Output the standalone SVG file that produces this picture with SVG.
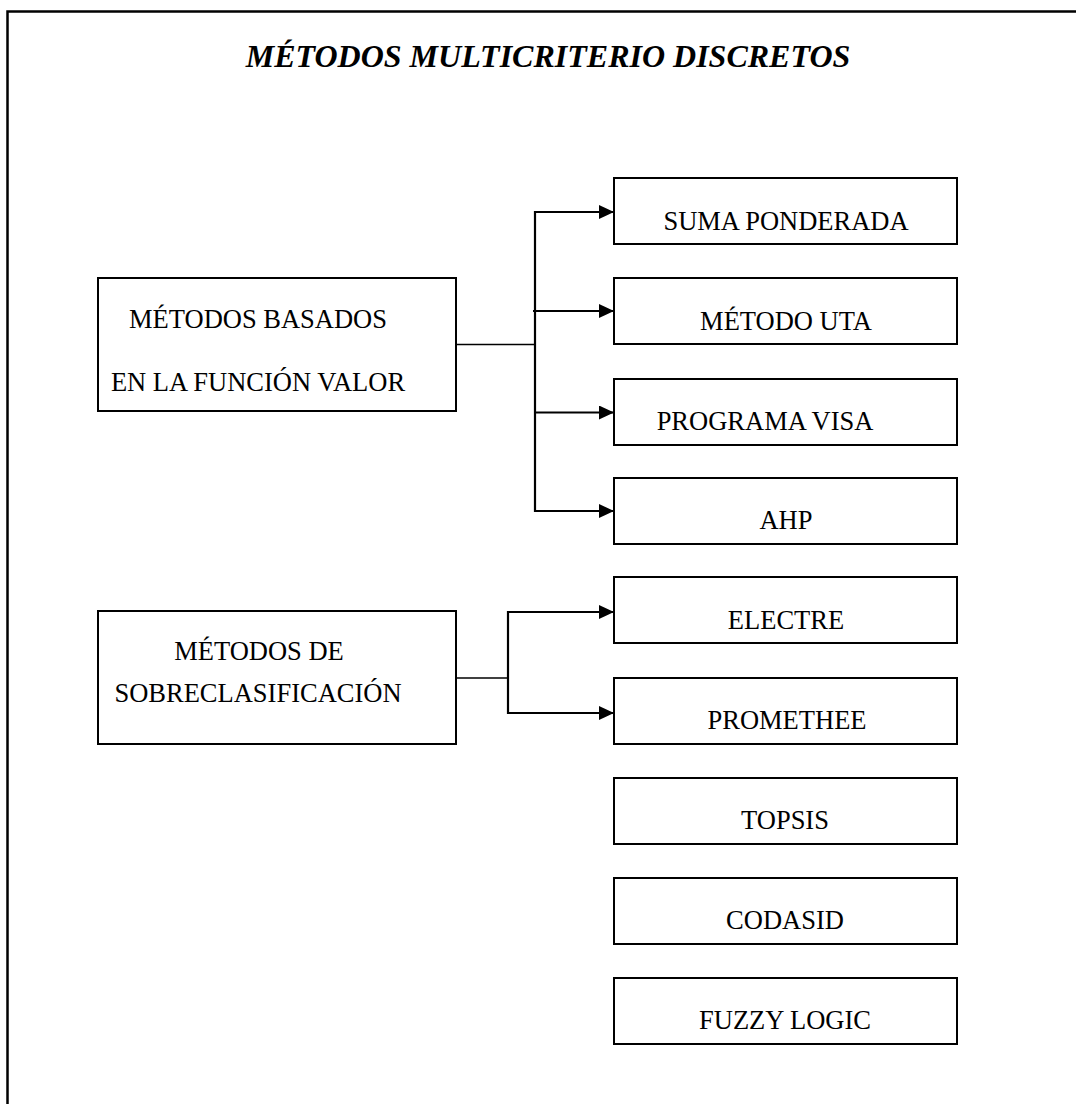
<svg xmlns="http://www.w3.org/2000/svg" width="1076" height="1104" viewBox="0 0 1076 1104">
  <style>
    .box { fill: #ffffff; stroke: #000000; stroke-width: 2; }
    .lbl { font-family: "Liberation Serif", "Times New Roman", serif; font-size: 26.5px; fill: #000000; text-anchor: middle; }
    .title { font-family: "Liberation Serif", "Times New Roman", serif; font-size: 32px; font-weight: bold; font-style: italic; fill: #000000; text-anchor: middle; }
    .wire { fill: none; stroke: #000000; stroke-width: 2.2; }
    .stem { fill: none; stroke: #000000; stroke-width: 1.6; }
  </style>
  <defs>
    <marker id="arrow" viewBox="0 0 15 14" refX="15" refY="7" markerWidth="15" markerHeight="14" markerUnits="userSpaceOnUse" orient="auto">
      <path d="M0,0 L15,7 L0,14 Z" fill="#000000"/>
    </marker>
  </defs>

  <rect width="1076" height="1104" fill="#ffffff"/>
  <!-- page frame, runs off the right and bottom edges -->
  <rect x="7.5" y="11.5" width="1100" height="1120" fill="none" stroke="#000000" stroke-width="2.5"/>

  <text id="title" class="title" x="548" y="67">MÉTODOS MULTICRITERIO DISCRETOS</text>

  <!-- connectors -->
  <g id="connectors">
    <line class="stem" x1="456" y1="344.5" x2="535" y2="344.5"/>
    <line class="wire" x1="535" y1="211" x2="535" y2="512"/>
    <line class="wire" x1="535" y1="212" x2="614" y2="212" marker-end="url(#arrow)"/>
    <line class="wire" x1="533" y1="311" x2="614" y2="311" marker-end="url(#arrow)"/>
    <line class="wire" x1="535" y1="412.5" x2="614" y2="412.5" marker-end="url(#arrow)"/>
    <line class="wire" x1="534" y1="511" x2="614" y2="511" marker-end="url(#arrow)"/>

    <line class="stem" x1="456" y1="678" x2="508" y2="678"/>
    <line class="wire" x1="508" y1="611" x2="508" y2="714"/>
    <line class="wire" x1="507" y1="612" x2="614" y2="612" marker-end="url(#arrow)"/>
    <line class="wire" x1="507" y1="713" x2="614" y2="713" marker-end="url(#arrow)"/>
  </g>

  <!-- parent groups -->
  <g id="funcion-valor">
    <rect class="box" x="98" y="278" width="358" height="133"/>
    <text class="lbl" x="258" y="328">MÉTODOS BASADOS</text>
    <text class="lbl" x="258" y="391">EN LA FUNCIÓN VALOR</text>
  </g>
  <g id="sobreclasificacion">
    <rect class="box" x="98" y="611" width="358" height="133"/>
    <text class="lbl" x="259" y="660">MÉTODOS DE</text>
    <text class="lbl" x="258" y="702">SOBRECLASIFICACIÓN</text>
  </g>

  <!-- individual methods -->
  <g id="suma-ponderada">
    <rect class="box" x="614" y="178" width="343" height="66"/>
    <text class="lbl" x="786" y="230">SUMA PONDERADA</text>
  </g>
  <g id="metodo-uta">
    <rect class="box" x="614" y="278" width="343" height="66"/>
    <text class="lbl" x="786" y="330">MÉTODO UTA</text>
  </g>
  <g id="programa-visa">
    <rect class="box" x="614" y="379" width="343" height="66"/>
    <text class="lbl" x="765" y="430">PROGRAMA VISA</text>
  </g>
  <g id="ahp">
    <rect class="box" x="614" y="478" width="343" height="66"/>
    <text class="lbl" x="786" y="529">AHP</text>
  </g>
  <g id="electre">
    <rect class="box" x="614" y="577" width="343" height="66"/>
    <text class="lbl" x="786" y="629">ELECTRE</text>
  </g>
  <g id="promethee">
    <rect class="box" x="614" y="678" width="343" height="66"/>
    <text class="lbl" x="787" y="729">PROMETHEE</text>
  </g>
  <g id="topsis">
    <rect class="box" x="614" y="778" width="343" height="66"/>
    <text class="lbl" x="785" y="829">TOPSIS</text>
  </g>
  <g id="codasid">
    <rect class="box" x="614" y="878" width="343" height="66"/>
    <text class="lbl" x="785" y="929">CODASID</text>
  </g>
  <g id="fuzzy-logic">
    <rect class="box" x="614" y="978" width="343" height="66"/>
    <text class="lbl" x="785" y="1029">FUZZY LOGIC</text>
  </g>
</svg>
